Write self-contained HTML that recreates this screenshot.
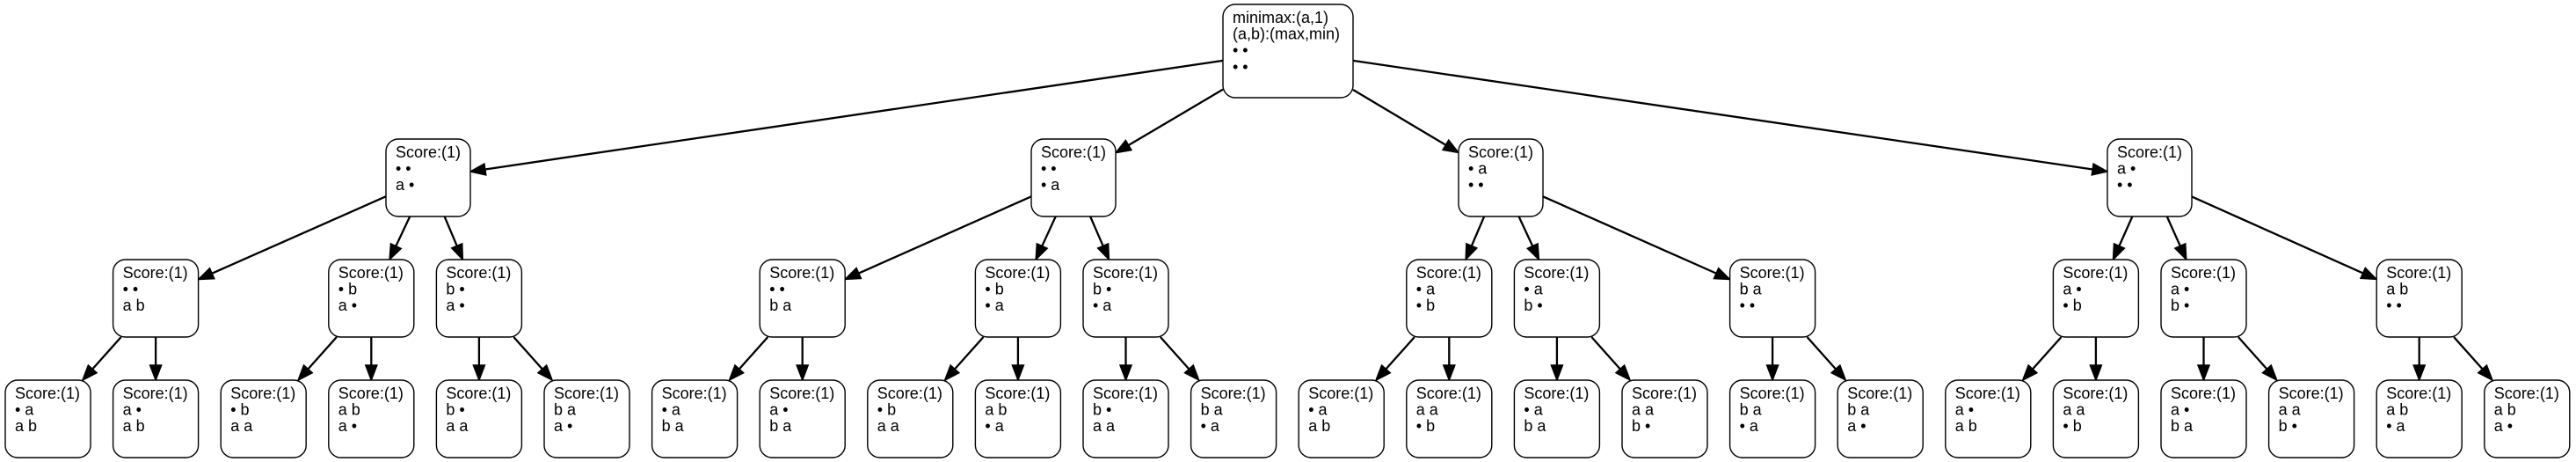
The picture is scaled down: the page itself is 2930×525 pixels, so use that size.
<!DOCTYPE html>
<html><head><meta charset="utf-8"><style>
html,body{margin:0;padding:0;background:#fff;width:2930px;height:525px;overflow:hidden}
svg text{font-family:"Liberation Sans",Arial,sans-serif;font-size:18px;fill:#000}
</style></head><body>
<svg id="s" width="2930" height="525" xmlns="http://www.w3.org/2000/svg"></svg>
<script>
const S=document.getElementById('s');
const NS='http://www.w3.org/2000/svg';
const B='\u2022';
function lx(i){return 6+122.6*i;}
const nodes=[];
function add(x,y,w,h,lines){const n={x,y,w,h,lines,cx:x+w/2,cy:y+h/2};nodes.push(n);return n;}
const root=add(1391,5,148,106,['minimax:(a,1)','(a,b):(max,min)',B+' '+B,B+' '+B]);
const L1lines=[[B+' '+B,'a '+B],[B+' '+B,B+' a'],[B+' a',B+' '+B],['a '+B,B+' '+B]];
const L1x=[439,1173,1659,2397];
const L2=[
 [[1,[B+' '+B,'a b']],[3,[B+' b','a '+B]],[4,['b '+B,'a '+B]]],
 [[7,[B+' '+B,'b a']],[9,[B+' b',B+' a']],[10,['b '+B,B+' a']]],
 [[13,[B+' a',B+' b']],[14,[B+' a','b '+B]],[16,['b a',B+' '+B]]],
 [[19,['a '+B,B+' b']],[20,['a '+B,'b '+B]],[22,['a b',B+' '+B]]]
];
const leaves=[
 [B+' a','a b'],['a '+B,'a b'],[B+' b','a a'],['a b','a '+B],['b '+B,'a a'],['b a','a '+B],
 [B+' a','b a'],['a '+B,'b a'],[B+' b','a a'],['a b',B+' a'],['b '+B,'a a'],['b a',B+' a'],
 [B+' a','a b'],['a a',B+' b'],[B+' a','b a'],['a a','b '+B],['b a',B+' a'],['b a','a '+B],
 ['a '+B,'a b'],['a a',B+' b'],['a '+B,'b a'],['a a','b '+B],['a b',B+' a'],['a b','a '+B]
];
const edges=[];
let li=0;
for(let g=0;g<4;g++){
 const n1=add(L1x[g],158,96,88,['Score:(1)'].concat(L1lines[g]));
 edges.push([root,n1]);
 for(const [k,ls] of L2[g]){
  const n2=add(lx(k),295,97,88,['Score:(1)'].concat(ls));
  edges.push([n1,n2]);
  for(let j=0;j<2;j++){
   const n3=add(lx(li),432,97,88,['Score:(1)'].concat(leaves[li]));
   edges.push([n2,n3]);li++;
  }
 }
}
function el(t,a,txt){const e=document.createElementNS(NS,t);for(const k in a)e.setAttribute(k,a[k]);if(txt!=null)e.textContent=txt;S.appendChild(e);return e;}
function clip(n,dx,dy){
 const hx=n.w/2,hy=n.h/2;let t=Infinity;
 if(dx!==0)t=Math.min(t,hx/Math.abs(dx));
 if(dy!==0)t=Math.min(t,hy/Math.abs(dy));
 return [n.cx+dx*t,n.cy+dy*t];
}
for(const [a,b] of edges){
 const dx=b.cx-a.cx,dy=b.cy-a.cy;
 const p=clip(a,dx,dy),q=clip(b,-dx,-dy);
 const L=Math.hypot(q[0]-p[0],q[1]-p[1]);const ux=(q[0]-p[0])/L,uy=(q[1]-p[1])/L;
 const al=17,aw=6.5;
 const bx=q[0]-ux*al,by=q[1]-uy*al;
 el('line',{x1:p[0],y1:p[1],x2:bx,y2:by,stroke:'#000','stroke-width':2.3});
 el('polygon',{points:`${q[0]},${q[1]} ${bx-uy*aw},${by+ux*aw} ${bx+uy*aw},${by-ux*aw}`,fill:'#000',stroke:'#000','stroke-width':1.5});
}
for(const n of nodes){
 el('rect',{x:n.x,y:n.y,width:n.w,height:n.h,rx:14,ry:14,fill:'#fff',stroke:'#000','stroke-width':1.4});
 n.lines.forEach((t,i)=>el('text',{x:n.x+11,y:n.y+21+i*18.6},t));
}
</script>
</body></html>
